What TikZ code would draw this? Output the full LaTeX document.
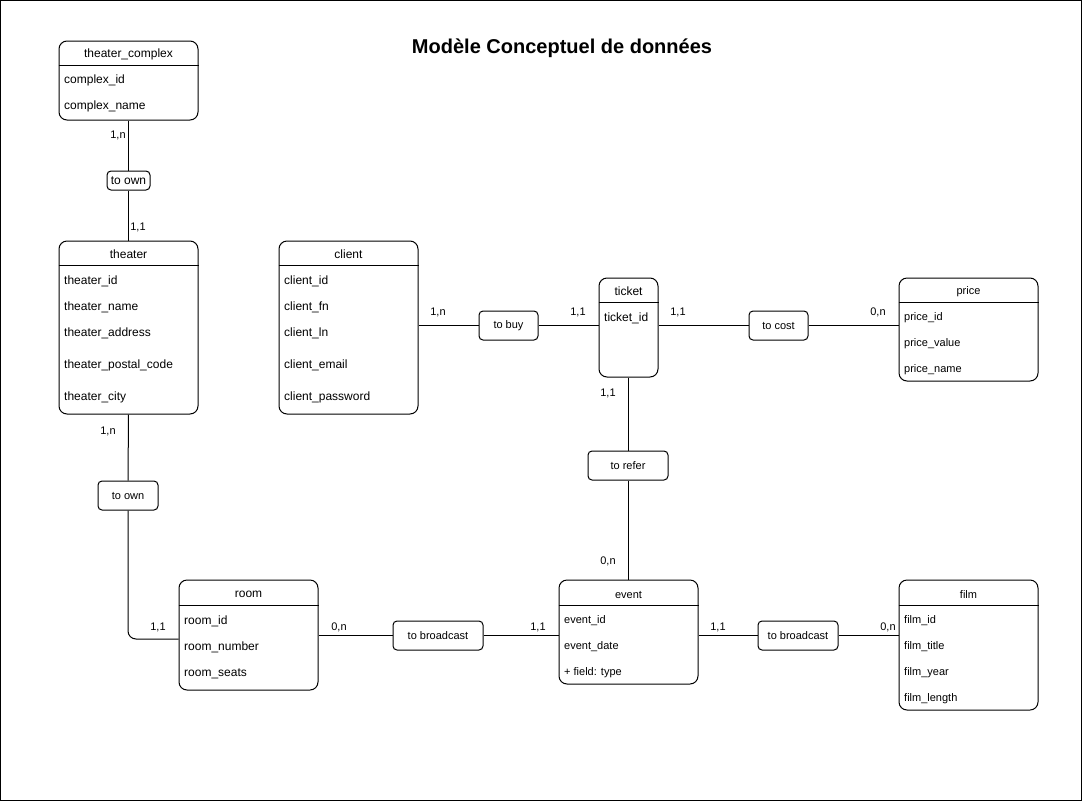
\documentclass[tikz,border=0pt]{standalone}
\usepackage{fontspec}
\setmainfont{Liberation Sans}
\usetikzlibrary{positioning}

\begin{document}
\begin{tikzpicture}[x=1pt,y=-1pt]
			\tikzstyle{Entity}	= [draw, rounded corners=8pt, line width=1pt, inner sep=0pt]
			\tikzstyle{Relation}	= [draw, rounded corners=4pt, line width=1pt, minimum height=29pt, inner sep=0pt, font=\fontsize{11}{13}\selectfont]
			\tikzstyle{Head}	= [inner sep=0pt, yshift=-1pt, font=\fontsize{12}{14}\selectfont]
			\tikzstyle{Field}	= [anchor=west, inner sep=0pt, yshift=-1.5pt, font=\fontsize{12}{14}\selectfont]
			\tikzstyle{Small}	= [font=\fontsize{11}{13}\selectfont]
			\tikzstyle{Card}	= [inner sep=0pt, yshift=-1pt, font=\fontsize{11}{13}\selectfont]
			\tikzstyle{Link}	= [line width=1pt]

			\useasboundingbox (0,0) rectangle (1082,801);
			\draw [Link] (0.5,0.5) rectangle (1081.5,800.5);

			\node (title) at (562,48) [font=\fontsize{20}{24}\selectfont\bfseries] {Modèle Conceptuel de données};

			% entities
			\node (complex) at (128.5,80.5) [Entity][minimum width=139pt, minimum height=79pt] {};
			\node (theater) at (128.5,327.5) [Entity][minimum width=139pt, minimum height=173pt] {};
			\node (client) at (348.5,327.5) [Entity][minimum width=139pt, minimum height=173pt] {};
			\node (ticket) at (628.5,327.5) [Entity][minimum width=59pt, minimum height=99pt] {};
			\node (price) at (968.5,329.5) [Entity][minimum width=139pt, minimum height=103pt] {};
			\node (event) at (628.5,632) [Entity][minimum width=139pt, minimum height=104pt] {};
			\node (film) at (968.5,645) [Entity][minimum width=139pt, minimum height=130pt] {};
			\node (room) at (248.5,635) [Entity][minimum width=139pt, minimum height=110pt] {};

			\draw [Link] ([yshift=-25pt]complex.north west) -- ([yshift=-25pt]complex.north east);
			\draw [Link] ([yshift=-25pt]theater.north west) -- ([yshift=-25pt]theater.north east);
			\draw [Link] ([yshift=-25pt]client.north west) -- ([yshift=-25pt]client.north east);
			\draw [Link] ([yshift=-25pt]ticket.north west) -- ([yshift=-25pt]ticket.north east);
			\draw [Link] ([yshift=-25pt]price.north west) -- ([yshift=-25pt]price.north east);
			\draw [Link] ([yshift=-26pt]event.north west) -- ([yshift=-26pt]event.north east);
			\draw [Link] ([yshift=-26pt]film.north west) -- ([yshift=-26pt]film.north east);
			\draw [Link] ([yshift=-26pt]room.north west) -- ([yshift=-26pt]room.north east);

			\node (complex-head) at ([yshift=-13pt]complex.north) [Head] {theater\_complex};
			\node (theater-head) at ([yshift=-13pt]theater.north) [Head] {theater};
			\node (client-head) at ([yshift=-13pt]client.north) [Head] {client};
			\node (ticket-head) at ([yshift=-12.5pt]ticket.north) [Head] {ticket};
			\node (price-head) at ([yshift=-13pt]price.north) [Head][Small] {price};
			\node (event-head) at ([yshift=-14pt]event.north) [Head][Small] {event};
			\node (film-head) at ([yshift=-14pt]film.north) [Head][Small] {film};
			\node (room-head) at ([yshift=-14pt]room.north) [Head] {room};

			% attributes
			\node (complex_id) at (64,79) [Field] {complex\_id};
			\node (complex_name) at (64,105) [Field] {complex\_name};

			\node (theater_id) at (64,280) [Field] {theater\_id};
			\node (theater_name) at (64,306) [Field] {theater\_name};
			\node (theater_address) at (64,332) [Field] {theater\_address};
			\node (theater_postal_code) at (64,364) [Field] {theater\_postal\_code};
			\node (theater_city) at (64,396) [Field] {theater\_city};

			\node (client_id) at (284,280) [Field] {client\_id};
			\node (client_fn) at (284,306) [Field] {client\_fn};
			\node (client_ln) at (284,332) [Field] {client\_ln};
			\node (client_email) at (284,364) [Field] {client\_email};
			\node (client_password) at (284,396) [Field] {client\_password};

			\node (ticket_id) at (604,317) [Field] {ticket\_id};

			\node (price_id) at (904,316) [Field][Small] {price\_id};
			\node (price_value) at (904,342) [Field][Small] {price\_value};
			\node (price_name) at (904,368) [Field][Small] {price\_name};

			\node (event_id) at (564,619) [Field][Small] {event\_id};
			\node (event_date) at (564,645) [Field][Small] {event\_date};
			\node (event_field) at (564,671) [Field][Small] {+ field: type};

			\node (film_id) at (904,619) [Field][Small] {film\_id};
			\node (film_title) at (904,645) [Field][Small] {film\_title};
			\node (film_year) at (904,671) [Field][Small] {film\_year};
			\node (film_length) at (904,697) [Field][Small] {film\_length};

			\node (room_id) at (184,620) [Field] {room\_id};
			\node (room_number) at (184,646) [Field] {room\_number};
			\node (room_seats) at (184,672) [Field] {room\_seats};

			% associations
			\node (own1) at (128.5,180.5) [Relation][minimum width=43pt, minimum height=19pt, font=\fontsize{12}{14}\selectfont] {to own};
			\node (own2) at (128,495.5) [Relation][minimum width=60pt] {to own};
			\node (buy) at (508.5,325.5) [Relation][minimum width=59pt] {to buy};
			\node (cost) at (778.5,325.5) [Relation][minimum width=59pt] {to cost};
			\node (refer) at (628,465.5) [Relation][minimum width=80pt] {to refer};
			\node (bcast1) at (438,635.5) [Relation][minimum width=90pt] {to broadcast};
			\node (bcast2) at (798,635.5) [Relation][minimum width=80pt] {to broadcast};

			\draw [Link] (complex.south) -- (own1.north);
			\draw [Link] (own1.south) -- (theater.north);
			\draw [Link] (theater.south) -- (own2.north);
			\draw [Link, rounded corners=8pt] (own2.south) |- ([yshift=-4pt]room.west);
			\draw [Link] (client.east |- buy.west) -- (buy.west);
			\draw [Link] (buy.east) -- (buy.east -| ticket.west);
			\draw [Link] (ticket.east |- cost.west) -- (cost.west);
			\draw [Link] (cost.east) -- (cost.east -| price.west);
			\draw [Link] (ticket.south -| refer.north) -- (refer.north);
			\draw [Link] (refer.south) -- (refer.south |- event.north);
			\draw [Link] (room.east |- bcast1.west) -- (bcast1.west);
			\draw [Link] (bcast1.east) -- (bcast1.east -| event.west);
			\draw [Link] (event.east |- bcast2.west) -- (bcast2.west);
			\draw [Link] (bcast2.east) -- (bcast2.east -| film.west);

			% cardinalities
			\node (c1) at (118,134) [Card] {1,n};
			\node (c2) at (138,226) [Card] {1,1};
			\node (c3) at (108,430) [Card] {1,n};
			\node (c4) at (158,626) [Card] {1,1};
			\node (c5) at (438,311) [Card] {1,n};
			\node (c6) at (578,311) [Card] {1,1};
			\node (c7) at (678,311) [Card] {1,1};
			\node (c8) at (878,311) [Card] {0,n};
			\node (c9) at (608,392) [Card] {1,1};
			\node (c10) at (608,560) [Card] {0,n};
			\node (c11) at (339,626) [Card] {0,n};
			\node (c12) at (538,626) [Card] {1,1};
			\node (c13) at (718,626) [Card] {1,1};
			\node (c14) at (888,626) [Card] {0,n};
		\end{tikzpicture}
\end{document}
